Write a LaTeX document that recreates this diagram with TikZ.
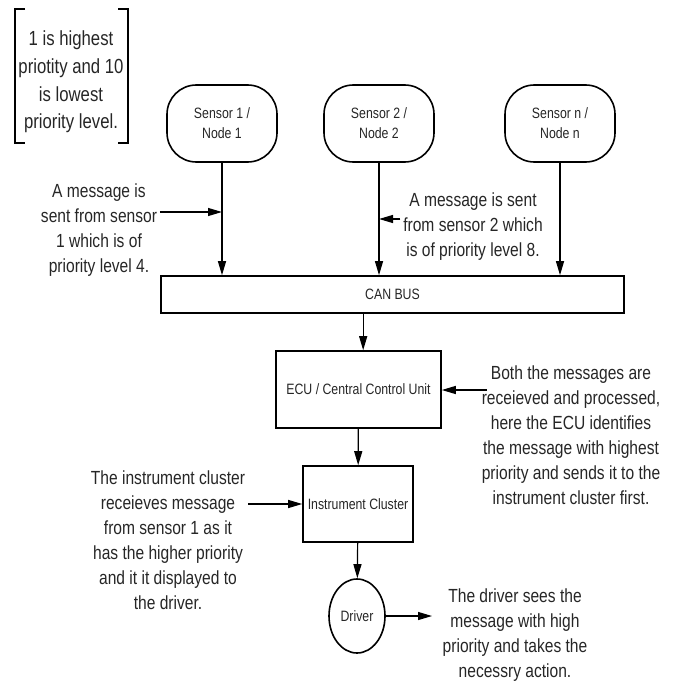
\documentclass[tikz,border=0pt]{standalone}
\usepackage{fontspec}
\setmainfont{Liberation Sans}[FakeStretch=0.82]
\usetikzlibrary{arrows.meta,shapes.geometric}

\begin{document}
\begin{tikzpicture}[x=0.75pt,y=-0.75pt, >={Triangle[length=10.5pt,width=6pt]},
  every node/.style={text=black!85},
  unit/.style={draw,line width=1.2pt,align=center,inner sep=1pt,font=\fontsize{11.25}{15}\selectfont},
  sensor/.style={unit,rounded corners=22pt,minimum width=82.5pt,minimum height=57.75pt},
  note/.style={align=center,inner sep=2pt,font=\fontsize{14.25}{18.75}\selectfont},
  link/.style={->,line width=0.9pt}]
\useasboundingbox (0,0) rectangle (677,684);
% key for the priority levels
\node[note,font=\fontsize{15.3}{20.8}\selectfont] (key) at (71,82) {1 is highest\\priotity and 10\\is lowest\\priority level.};
\draw[line width=1.2pt] (25,9) -| (15,143) -- (25,143);
\draw[line width=1.2pt] (118,9) -| (128,143) -- (118,143);
% nodes
\node[sensor] (sens1) at (222,123.5) {Sensor 1 /\\Node 1};
\node[sensor] (sens2) at (379,123.5) {Sensor 2 /\\Node 2};
\node[sensor] (sensn) at (560,123.5) {Sensor n /\\Node n};
\node[unit,minimum width=347.25pt,minimum height=27.75pt] (bus) at (392.5,294.5) {CAN BUS};
\node[unit,minimum width=123.75pt,minimum height=57.75pt] (ecu) at (358.5,389.5) {ECU / Central Control Unit};
\node[unit,minimum width=82.5pt,minimum height=57pt] (ic) at (358,504) {Instrument Cluster};
\node[unit,ellipse,inner sep=0pt,minimum width=42pt,minimum height=55.5pt] (drv) at (357,616) {Driver};
% notes
\node[note] (msg1) at (99,230) {A message is\\sent from sensor\\1 which is of\\priority level 4.};
\node[note] (msg2) at (473,227) {A message is sent\\from sensor 2 which\\is of priority level 8.};
\node[note] (proc) at (571,435) {Both the messages are\\receieved and processed,\\here the ECU identifies\\the message with highest\\priority and sends it to the\\instrument cluster first.};
\node[note] (disp) at (168,540) {The instrument cluster\\receieves message\\from sensor 1 as it\\has the higher priority\\and it it displayed to\\the driver.};
\node[note] (act) at (515,635.5) {The driver sees the\\message with high\\priority and takes the\\necessry action.};
% connectors
\draw[link] (sens1) -- (sens1 |- bus.north);
\draw[link] (sens2) -- (sens2 |- bus.north);
\draw[link] (sensn) -- (sensn |- bus.north);
\draw[link] ([xshift=3.5pt]ecu.north |- bus.south) -- ([xshift=3.5pt]ecu.north);
\draw[link] (ecu) -- (ic);
\draw[link] (ic) -- (drv);
\coordinate (m1) at (222,212);
\coordinate (m2) at (379,219);
\coordinate (p1) at (487,390);
\coordinate (d1) at (432,616);
\draw[link] (msg1.east |- m1) -- (m1);
\draw[link] (msg2.west |- m2) -- (m2);
\draw[link] (p1) -- (p1 -| ecu.east);
\draw[link] (disp.east |- ic.west) -- (ic.west);
\draw[link] (drv.east) -- (d1);
\end{tikzpicture}
\end{document}
